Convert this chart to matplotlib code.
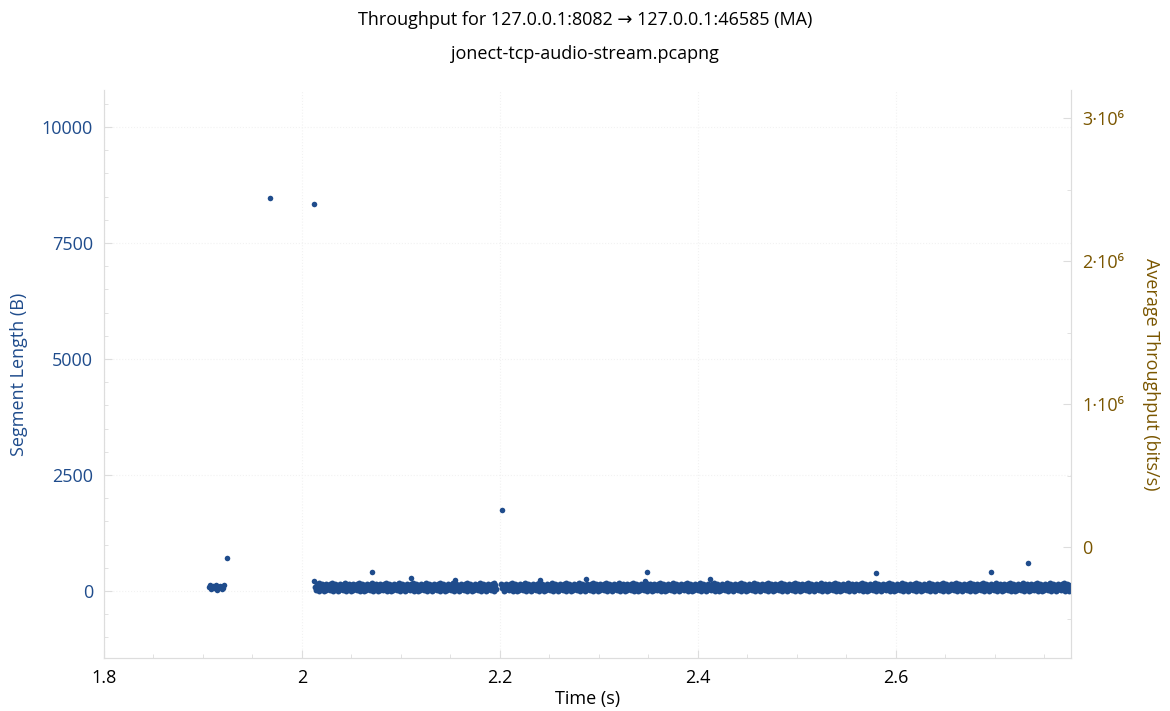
import numpy as np
import matplotlib
matplotlib.use('Agg')
import matplotlib.pyplot as plt
from matplotlib.ticker import MultipleLocator, FuncFormatter

plt.rcParams['font.family'] = ['Open Sans', 'DejaVu Sans']

# isolated segments (time s, length B)
early_t = [1.906, 1.907, 1.908, 1.910, 1.911, 1.913, 1.914, 1.916, 1.917, 1.919, 1.920, 1.921]
early_len = [80, 120, 40, 100, 60, 130, 30, 90, 110, 50, 70, 140]

outlier_t = [1.9242, 1.9677, 2.0121, 2.0125, 2.0707, 2.110, 2.1545, 2.202,
             2.2404, 2.2869, 2.346, 2.3485, 2.412, 2.5798, 2.696, 2.7333]
outlier_len = [711, 8470, 8340, 215, 410, 280, 237, 1745,
               237, 258, 215, 410, 258, 388, 410, 603]

# dense stream of small audio segments: runs of packets (start, end, spacing)
run_start = [2.0135, 2.2015]
run_end = [2.1965, 2.7770]
run_step = [0.0008, 0.0008]
run_lengths = [90, 20, 150, 60, 170, 10, 120, 40, 160, 70, 130, 0, 100, 30, 145, 80, 55]

# moving-average throughput axis (no samples drawn)
tput_ticks = [0, 1e6, 2e6, 3e6]

blue = '#1f4c8c'
brown = '#7a5600'
spine_col = '#dddddd'

band_t = []
for s, e, d in zip(run_start, run_end, run_step):
    band_t.extend(np.arange(s, e, d))
band_t = np.array(band_t)
band_len = np.resize(run_lengths, len(band_t))

fig = plt.figure(figsize=(11.7, 7.11), dpi=100)
ax = fig.add_axes([104 / 1170, 1 - 658 / 711, 967 / 1170, 568 / 711])
ax2 = ax.twinx()

ax.scatter(band_t, band_len, s=18, color=blue, linewidths=0, zorder=3)
ax.scatter(early_t, early_len, s=16, color=blue, linewidths=0, zorder=3)
ax.scatter(outlier_t, outlier_len, s=16, color=blue, linewidths=0, zorder=3)

ax.set_xlim(1.8, 2.7768)
ax.set_ylim(-1444, 10797)
ax2.set_ylim(-0.776e6, 3.196e6)

ax.xaxis.set_major_locator(MultipleLocator(0.2))
ax.xaxis.set_minor_locator(MultipleLocator(0.05))
ax.xaxis.set_major_formatter(FuncFormatter(lambda v, p: '%g' % round(v, 3)))
ax.yaxis.set_major_locator(MultipleLocator(2500))
ax.yaxis.set_minor_locator(MultipleLocator(500))
ax2.set_yticks(tput_ticks)
ax2.yaxis.set_minor_locator(MultipleLocator(0.5e6))


def tput_fmt(v, p):
    n = int(round(v / 1e6))
    if n == 0:
        return '0'
    return '%d·10⁶' % n


ax2.yaxis.set_major_formatter(FuncFormatter(tput_fmt))

for a in (ax, ax2):
    a.spines['top'].set_visible(False)
    for side in ('left', 'right', 'bottom'):
        a.spines[side].set_color(spine_col)
    a.tick_params(which='both', direction='in', color=spine_col, labelsize=13)
    a.tick_params(which='major', length=6)
    a.tick_params(which='minor', length=3)

ax.tick_params(axis='y', labelcolor=blue, pad=8)
ax.tick_params(axis='x', labelcolor='black', pad=8)
ax2.tick_params(axis='y', labelcolor=brown, pad=8)

ax.grid(True, which='major', color='#f2f2f2', linestyle=':', linewidth=0.8)

ax.set_xlabel('Time (s)', fontsize=13, labelpad=2)
ax.set_ylabel('Segment Length (B)', fontsize=13, color=blue)
ax.yaxis.set_label_coords(-0.079, 0.5)
ax2.set_ylabel('Average Throughput (bits/s)', fontsize=13, color=brown,
               rotation=270, va='center')
ax2.yaxis.set_label_coords(1.083, 0.5)

fig.text(0.5, 1 - 20 / 711, 'Throughput for 127.0.0.1:8082 → 127.0.0.1:46585 (MA)',
         ha='center', va='center', fontsize=13)
fig.text(0.5, 1 - 54 / 711, 'jonect-tcp-audio-stream.pcapng',
         ha='center', va='center', fontsize=13)

fig.savefig('out.png', dpi=100)
